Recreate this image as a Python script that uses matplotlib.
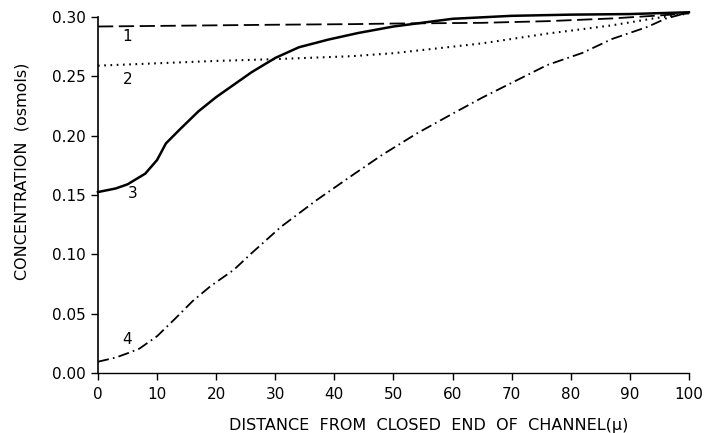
import matplotlib
matplotlib.use('Agg')
import matplotlib.pyplot as plt

# curve 1 (dashed)
x1 = [0, 10, 20, 30, 43, 50, 65, 76, 87, 94, 100]
c1 = [0.292, 0.2925, 0.293, 0.2935, 0.294, 0.2945, 0.2951, 0.2965, 0.2988, 0.301, 0.303]

# curve 2 (dotted)
x2 = [0, 10, 20, 30, 43, 50, 60, 65, 70, 76, 80, 87, 94, 100]
c2 = [0.259, 0.261, 0.263, 0.2645, 0.267, 0.2695, 0.275, 0.2778, 0.2815, 0.286, 0.2885, 0.293, 0.2988, 0.303]

# curve 3 (solid)
x3 = [0, 3, 5, 8, 10, 11.5, 14, 17, 20, 23, 26, 30, 34, 39, 44, 50, 60, 70, 80, 90, 100]
c3 = [0.1525, 0.1555, 0.159, 0.168, 0.1795, 0.1935, 0.206, 0.2205, 0.2325, 0.243, 0.2535,
      0.2655, 0.2745, 0.281, 0.2865, 0.292, 0.2985, 0.301, 0.302, 0.3025, 0.304]

# curve 4 (dash-dot)
x4 = [0, 3, 5, 7, 10, 13, 16, 19, 23, 26, 31, 37, 43, 48, 54, 60, 65, 70, 76, 82, 87, 93, 96, 100]
c4 = [0.0095, 0.013, 0.0166, 0.0205, 0.031, 0.0455, 0.0605, 0.073, 0.087, 0.101, 0.1233, 0.1457,
      0.1665, 0.1835, 0.202, 0.2185, 0.232, 0.2445, 0.2595, 0.2698, 0.2815, 0.2917, 0.2985, 0.304]

curve_labels = ['1', '2', '3', '4']
label_pos = [(5.0, 0.284), (5.0, 0.2477), (5.9, 0.1514), (5.0, 0.0286)]

xticks = [0, 10, 20, 30, 40, 50, 60, 70, 80, 90, 100]
yticks = [0.00, 0.05, 0.10, 0.15, 0.20, 0.25, 0.30]

plt.rcParams['lines.scale_dashes'] = False
plt.rcParams['font.family'] = 'DejaVu Sans'

fig = plt.figure(figsize=(7.08, 4.33), dpi=100)
ax = fig.add_axes([0.1384, 0.1386, 0.8346, 0.8221])

ax.plot(x1, c1, color='black', lw=1.3, dashes=[11, 4], clip_on=False)
ax.plot(x2, c2, color='black', lw=1.5, dashes=[1.2, 3.3], clip_on=False)
ax.plot(x3, c3, color='black', lw=1.8, clip_on=False)
ax.plot(x4, c4, color='black', lw=1.3, dashes=[8, 3, 1.2, 3], clip_on=False)

for lab, (lx, ly) in zip(curve_labels, label_pos):
    ax.text(lx, ly, lab, fontsize=11, ha='center', va='center')

ax.set_xlim(0, 100)
ax.set_ylim(0, 0.30)
ax.set_xticks(xticks)
ax.set_yticks(yticks)
ax.set_xticklabels([str(t) for t in xticks])
ax.set_yticklabels(['%.2f' % t for t in yticks])
ax.tick_params(direction='out', length=5, width=1, labelsize=11, color='black')
ax.tick_params(axis='x', pad=5)
ax.spines['top'].set_visible(False)
ax.spines['right'].set_visible(False)
ax.spines['left'].set_linewidth(1.2)
ax.spines['bottom'].set_linewidth(1.0)

fig.text(0.606, 0.018, 'DISTANCE  FROM  CLOSED  END  OF  CHANNEL(\u03bc)', fontsize=11.5,
         ha='center', va='center')
fig.text(0.031, 0.605, 'CONCENTRATION  (osmols)', fontsize=11.5, rotation=90,
         ha='center', va='center')

fig.savefig('out.png', dpi=100)
